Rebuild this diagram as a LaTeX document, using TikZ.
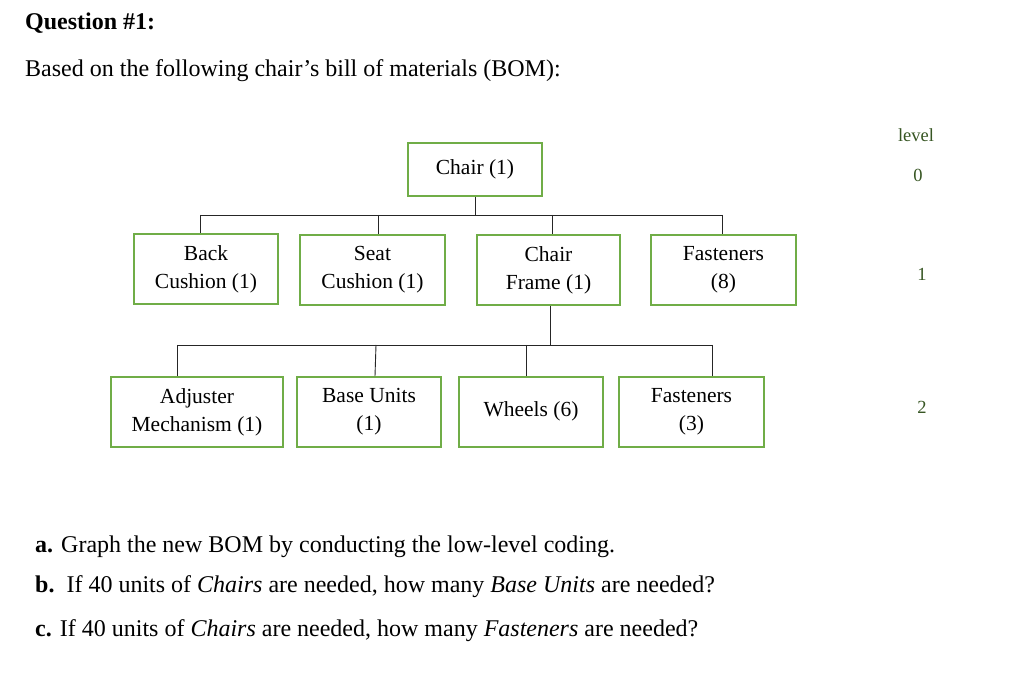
\documentclass[tikz,border=0pt]{standalone}
\usepackage{fontspec}
\setmainfont{Liberation Serif}
\usetikzlibrary{calc}
\definecolor{boxgreen}{HTML}{70AD47}
\definecolor{levgreen}{HTML}{375623}
\begin{document}
\begin{tikzpicture}[x=1pt,y=-1pt,
  bomitem/.style={draw=boxgreen, line width=1.8pt, fill=white, align=center, inner sep=0pt,
     font=\fontsize{21.5}{28}\selectfont},
  conn/.style={draw=black!85, line width=0.9pt},
  lev/.style={text=levgreen, font=\fontsize{18.5}{22}\selectfont},
  body/.style={anchor=base west, inner sep=0pt, font=\fontsize{24}{28}\selectfont}]
\useasboundingbox[fill=white] (0,0) rectangle (1013,692);

\node[body, font=\fontsize{24}{28}\selectfont\bfseries] (title) at (25,30) {Question \#1:};
\node[body] (intro) at (25,77) {Based on the following chair’s bill of materials (BOM):};

% level column
\node[lev] (levlab) at (916,135) {level};
\node[lev] (lev0) at (918,175) {0};
\node[lev] (lev1) at (922,274) {1};
\node[lev] (lev2) at (922,407) {2};

% level 0
\node[bomitem, minimum width=134pt, minimum height=53pt] (chair) at (475,169.5) {Chair (1)};

% level 1
\node[bomitem, minimum width=144pt, minimum height=70pt] (back) at (206,269) {Back\\Cushion (1)};
\node[bomitem, minimum width=145pt, minimum height=70pt] (seat) at (372.5,270) {Seat\\Cushion (1)};
\node[bomitem, minimum width=143pt, minimum height=70pt] (frame) at (548.5,270) {Chair\\Frame (1)};
\node[bomitem, minimum width=145pt, minimum height=70pt] (fast8) at (723.5,270) {Fasteners\\(8)};

% level 2
\node[bomitem, minimum width=172pt, minimum height=70pt] (adj) at (197,412) {Adjuster\\Mechanism (1)};
\node[bomitem, minimum width=144pt, minimum height=70pt] (base) at (369,412) {Base Units\\(1)};
\node[bomitem, minimum width=144pt, minimum height=70pt] (wheels) at (531,412) {\raisebox{5pt}{Wheels (6)}};
\node[bomitem, minimum width=145pt, minimum height=70pt] (fast3) at (691.5,412) {Fasteners\\(3)};

% connectors level 0 -> 1
\coordinate (busA) at (475,215);
\coordinate (ta) at ($(back.north)+(-6,0)$);
\coordinate (tb) at ($(seat.north)+(5.5,0)$);
\coordinate (tc) at ($(frame.north)+(3.5,0)$);
\coordinate (td) at ($(fast8.north)+(-1.5,0)$);
\draw[conn] (chair.south) -- (busA);
\draw[conn] (ta |- busA) -- (td |- busA);
\draw[conn] (ta |- busA) -- (ta);
\draw[conn] (tb |- busA) -- (tb);
\draw[conn] (tc |- busA) -- (tc);
\draw[conn] (td |- busA) -- (td);

% connectors level 1 -> 2
\coordinate (fs) at ($(frame.south)+(1.5,0)$);
\coordinate (busB) at (550,345);
\coordinate (ua) at ($(adj.north)+(-20,0)$);
\coordinate (ub) at ($(base.north)+(6,0)$);
\coordinate (uc) at ($(wheels.north)+(-5,0)$);
\coordinate (ud) at ($(fast3.north)+(20.5,0)$);
\draw[conn] (fs) -- (busB);
\draw[conn] (ua |- busB) -- (ud |- busB);
\draw[conn] (ua |- busB) -- (ua);
\draw[conn] ($(ub |- busB)+(1,0)$) -- (ub);
\draw[conn] (uc |- busB) -- (uc);
\draw[conn] (ud |- busB) -- (ud);

% questions
\node[body] (qa) at (35,553) {\textbf{a.} Graph the new BOM by conducting the low-level coding.};
\node[body] (qb) at (35,593) {\textbf{b.}\ \ If 40 units of \textit{Chairs} are needed, how many \textit{Base Units} are needed?};
\node[body] (qc) at (35,636) {\textbf{c.} If 40 units of \textit{Chairs} are needed, how many \textit{Fasteners} are needed?};
\end{tikzpicture}
\end{document}
